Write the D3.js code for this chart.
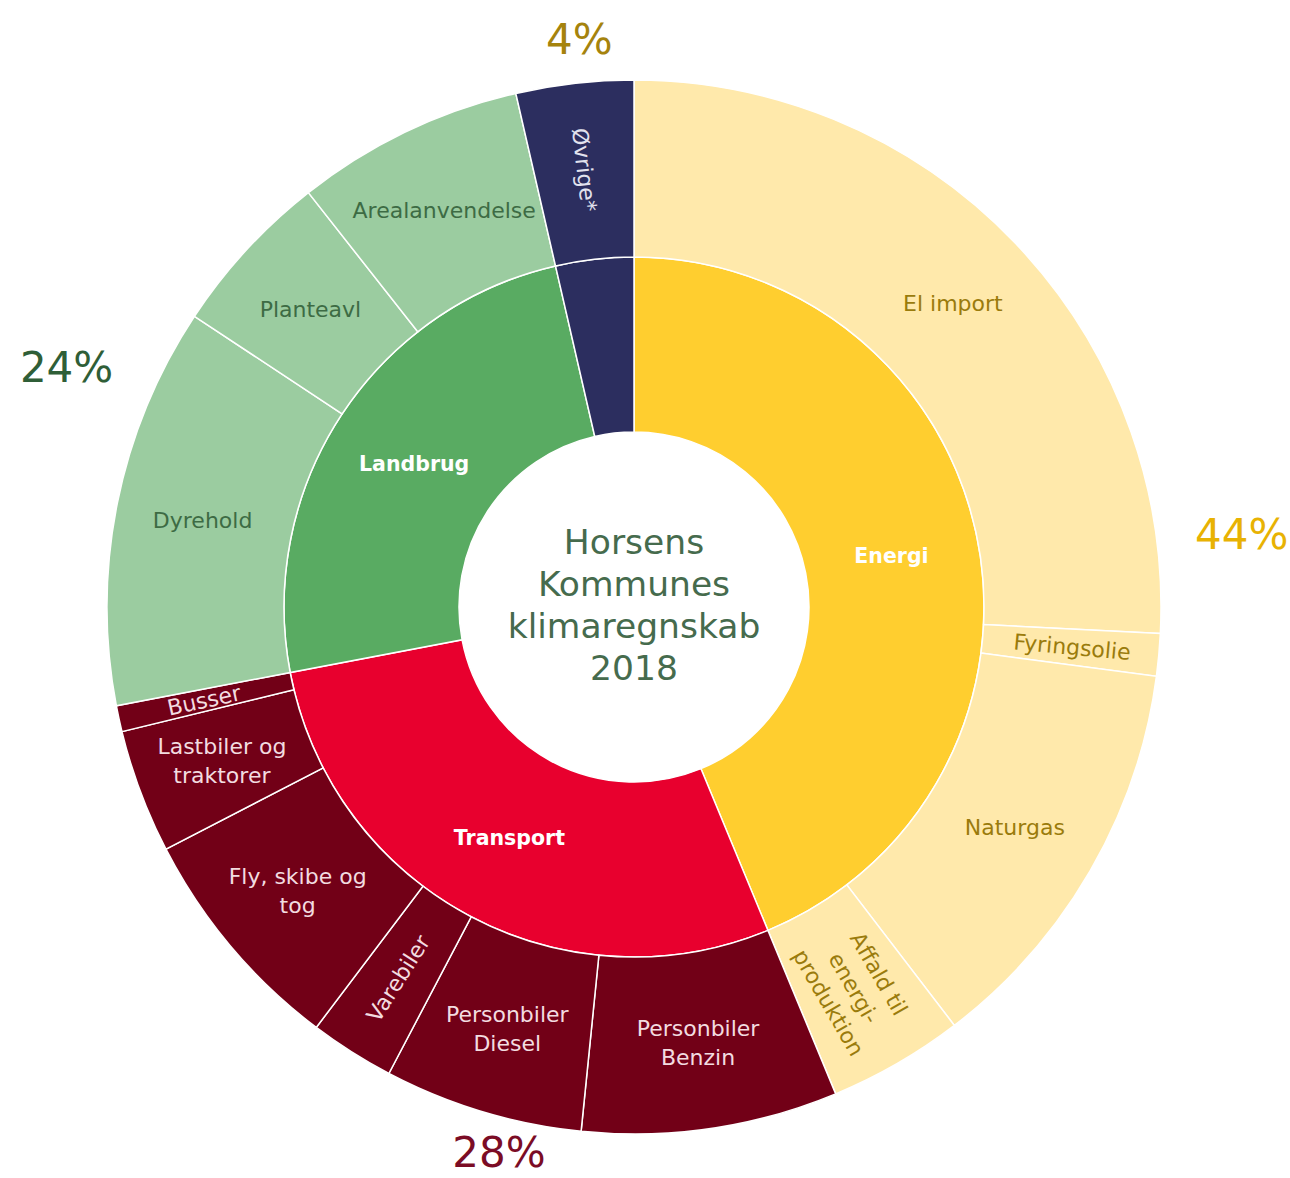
<!DOCTYPE html>
<html>
<head>
<meta charset="utf-8">
<script src="https://cdn.jsdelivr.net/npm/d3@7"></script>
<style>
  html, body { margin: 0; padding: 0; background: #ffffff; }
  svg { display: block; font-family: "DejaVu Sans", Verdana, sans-serif; }
</style>
</head>
<body>
<svg id="chart" width="1290" height="1178"></svg>
<script>
// ---------- data ----------
const groups = ["Energi", "Transport", "Landbrug", "Øvrige*"];
const groupShowLabel = [true, true, true, false];

const energiLabels = ["El import", "Fyringsolie", "Naturgas", "Affald til\nenergi-\nproduktion"];
const energiValues = [25.8, 1.3, 12.5, 4.15];

const transportLabels = ["Personbiler\nBenzin", "Personbiler\nDiesel", "Varebiler", "Fly, skibe og\ntog", "Lastbiler og\ntraktorer", "Busser"];
const transportValues = [7.85, 6.1, 2.6, 7.1, 3.8, 0.8];

const landbrugLabels = ["Dyrehold", "Planteavl", "Arealanvendelse"];
const landbrugValues = [12.3, 5.1, 7.0];

const oevrigeLabels = ["Øvrige*"];
const oevrigeValues = [3.6];

const percentLabels = ["44%", "28%", "24%", "4%"];
const titleLines = ["Horsens", "Kommunes", "klimaregnskab", "2018"];

// rotated (radial) labels in the outer ring
const radialLabels = ["Fyringsolie", "Affald til\nenergi-\nproduktion", "Varebiler", "Busser", "Øvrige*"];

// ---------- styles ----------
const innerColors = { "Energi": "#FFCE2F", "Transport": "#E8002E", "Landbrug": "#59AB62", "Øvrige*": "#2C2E5F" };
const outerColors = { "Energi": "#FFE9AB", "Transport": "#720017", "Landbrug": "#9BCCA0", "Øvrige*": "#2C2E5F" };
const outerText   = { "Energi": "#9A7B0C", "Transport": "#F3DCE0", "Landbrug": "#3D6B44", "Øvrige*": "#E2E2EE" };
const pctColors   = { "Energi": "#E8B203", "Transport": "#7B0C25", "Landbrug": "#2F5E37", "Øvrige*": "#A5830D" };
// outside percentage positions (angle in degrees clockwise from top, radius)
const pctPlace = { "Energi": [83.2, 612], "Transport": [193.9, 562], "Landbrug": [292.9, 616], "Øvrige*": [354.5, 570] };

// ---------- build ----------
const subsets = {
  "Energi": [energiLabels, energiValues],
  "Transport": [transportLabels, transportValues],
  "Landbrug": [landbrugLabels, landbrugValues],
  "Øvrige*": [oevrigeLabels, oevrigeValues]
};
const groupTotals = groups.map(g => d3.sum(subsets[g][1]));

const svg = d3.select("#chart");
const cx = 634, cy = 607;
const r0 = 175, r1 = 350, r2 = 527;
const g = svg.append("g").attr("transform", `translate(${cx},${cy})`);

const total = d3.sum(groupTotals);
const angle = d3.scaleLinear().domain([0, total]).range([0, 2 * Math.PI]);

// inner ring
const pie = d3.pie().sort(null).value(d => d.value).startAngle(0).endAngle(2 * Math.PI);
const innerData = pie(groups.map((name, i) => ({ name, value: groupTotals[i], show: groupShowLabel[i] })));
const innerArc = d3.arc().innerRadius(r0).outerRadius(r1);

g.selectAll("path.inner").data(innerData).join("path")
  .attr("class", "inner")
  .attr("d", innerArc)
  .attr("fill", d => innerColors[d.data.name])
  .attr("stroke", "#ffffff").attr("stroke-width", 1.5);

// outer ring
const outerData = [];
let cum = 0;
groups.forEach(gname => {
  const [labels, values] = subsets[gname];
  labels.forEach((lab, i) => {
    const v = values[i];
    outerData.push({ group: gname, label: lab, startAngle: angle(cum), endAngle: angle(cum + v) });
    cum += v;
  });
});
const outerArc = d3.arc().innerRadius(r1).outerRadius(r2);
g.selectAll("path.outer").data(outerData).join("path")
  .attr("class", "outer")
  .attr("d", outerArc)
  .attr("fill", d => outerColors[d.group])
  .attr("stroke", "#ffffff").attr("stroke-width", 1.5);

// inner labels
const innerLabelArc = d3.arc().innerRadius(r0).outerRadius(r1);
g.selectAll("text.inner").data(innerData.filter(d => d.data.show)).join("text")
  .attr("class", "inner")
  .attr("transform", d => `translate(${innerLabelArc.centroid(d)})`)
  .attr("text-anchor", "middle").attr("dy", "0.35em")
  .attr("fill", "#ffffff").attr("font-weight", "bold").attr("font-size", 20.5)
  .text(d => d.data.name);

// outer labels
const labelR = 440;
const lineH = 29;
const outerLabels = g.selectAll("text.outer").data(outerData).join("text")
  .attr("class", "outer")
  .attr("text-anchor", "middle")
  .attr("font-size", 22)
  .attr("fill", d => outerText[d.group])
  .attr("transform", d => {
    const a = (d.startAngle + d.endAngle) / 2;
    const x = Math.sin(a) * labelR, y = -Math.cos(a) * labelR;
    let rot = 0;
    if (radialLabels.includes(d.label)) {
      rot = a * 180 / Math.PI - 90;
      if (rot > 90) rot -= 180;
      if (rot > 90) rot -= 180;
    }
    return `translate(${x},${y}) rotate(${rot})`;
  });
outerLabels.each(function(d) {
  const lines = d.label.split("\n");
  const t = d3.select(this);
  lines.forEach((ln, i) => {
    t.append("tspan").attr("x", 0)
      .attr("y", (i - (lines.length - 1) / 2) * lineH)
      .attr("dy", "0.35em")
      .text(ln);
  });
});

// percentage labels
g.selectAll("text.pct").data(groups).join("text")
  .attr("class", "pct")
  .attr("text-anchor", "middle").attr("dy", "0.35em")
  .attr("font-size", 42)
  .attr("fill", d => pctColors[d])
  .attr("x", d => Math.sin(pctPlace[d][0] * Math.PI / 180) * pctPlace[d][1])
  .attr("y", d => -Math.cos(pctPlace[d][0] * Math.PI / 180) * pctPlace[d][1])
  .text((d, i) => percentLabels[i]);

// center title
const title = g.append("text").attr("text-anchor", "middle")
  .attr("font-size", 34.5).attr("fill", "#466B4D");
titleLines.forEach((ln, i) => {
  title.append("tspan").attr("x", 0)
    .attr("y", (i - (titleLines.length - 1) / 2) * 42 - 2)
    .attr("dy", "0.35em").text(ln);
});
</script>
</body>
</html>
